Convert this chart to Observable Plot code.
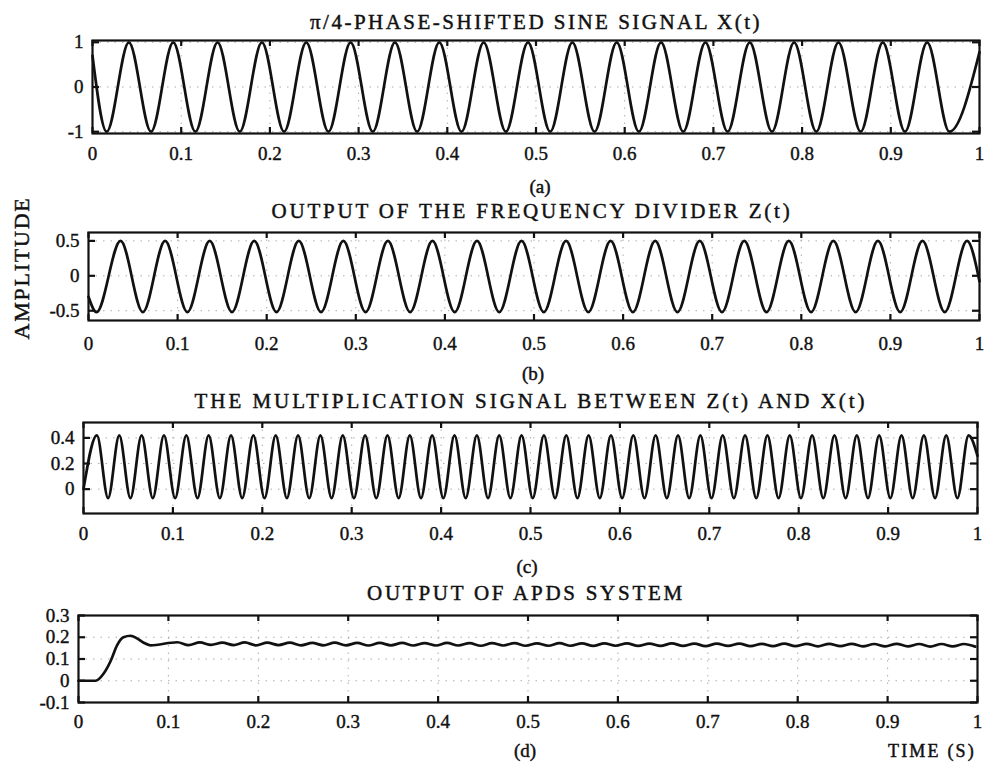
<!DOCTYPE html>
<html><head><meta charset="utf-8">
<script src="https://cdn.jsdelivr.net/npm/d3@7"></script>
<script src="https://cdn.jsdelivr.net/npm/@observablehq/plot@0.6"></script>
<style>
body{margin:0;background:#fff;}
#root{position:relative;width:987px;height:768px;overflow:hidden;background:#fff;font-family:"Liberation Serif","Times New Roman",serif;color:#111;}
.lbl{position:absolute;white-space:nowrap;line-height:1;-webkit-text-stroke:0.45px #111;}
.plot{position:absolute;left:0;}
.plot text{stroke:#111;stroke-width:0.4px;}
</style></head><body><div id="root"></div>
<script>
// ---------- data ----------
const xTicks = [0, 0.1, 0.2, 0.3, 0.4, 0.5, 0.6, 0.7, 0.8, 0.9, 1];

// (a) pi/4-phase-shifted sine X(t): extrema
const aStart = [0, 0.7];
const aEnd = [1, 0.78];
const aTroughT = [0.016, 0.066, 0.116, 0.166, 0.216, 0.266, 0.316, 0.366, 0.416, 0.466, 0.516, 0.566, 0.616, 0.666, 0.716, 0.766, 0.816, 0.866, 0.916, 0.966];
const aPeakT = [0.041, 0.091, 0.141, 0.191, 0.241, 0.291, 0.341, 0.391, 0.441, 0.491, 0.541, 0.591, 0.641, 0.691, 0.741, 0.791, 0.841, 0.891, 0.941];
const aPeakV = 1.0, aTroughV = -1.0;
const aYTicks = [-1, 0, 1];

// (b) output of the frequency divider Z(t)
const bStart = [0, -0.3];
const bEnd = [1, -0.08];
const bTroughT = [0.009, 0.061, 0.111, 0.161, 0.211, 0.261, 0.311, 0.361, 0.411, 0.461, 0.511, 0.561, 0.611, 0.661, 0.711, 0.761, 0.811, 0.861, 0.911, 0.961];
const bPeakT = [0.036, 0.086, 0.136, 0.186, 0.236, 0.286, 0.336, 0.386, 0.436, 0.486, 0.536, 0.586, 0.636, 0.686, 0.736, 0.786, 0.836, 0.886, 0.936, 0.986];
const bPeakV = 0.5, bTroughV = -0.52;
const bYTicks = [-0.5, 0, 0.5];

// (c) multiplication signal Z(t)*X(t)
const cStart = [0, 0.0];
const cEnd = [1, 0.26];
const cPeakT = [0.015, 0.040, 0.065, 0.090, 0.115, 0.140, 0.165, 0.190, 0.215, 0.240, 0.265, 0.290, 0.315, 0.340, 0.365, 0.390, 0.415, 0.440, 0.465, 0.490, 0.515, 0.540, 0.565, 0.590, 0.615, 0.640, 0.665, 0.690, 0.715, 0.740, 0.765, 0.790, 0.815, 0.840, 0.865, 0.890, 0.915, 0.940, 0.965, 0.990];
const cTroughT = [0.0275, 0.0525, 0.0775, 0.1025, 0.1275, 0.1525, 0.1775, 0.2025, 0.2275, 0.2525, 0.2775, 0.3025, 0.3275, 0.3525, 0.3775, 0.4025, 0.4275, 0.4525, 0.4775, 0.5025, 0.5275, 0.5525, 0.5775, 0.6025, 0.6275, 0.6525, 0.6775, 0.7025, 0.7275, 0.7525, 0.7775, 0.8025, 0.8275, 0.8525, 0.8775, 0.9025, 0.9275, 0.9525, 0.9775];
const cPeakV = 0.42, cTroughV = -0.07;
const cYTicks = [0, 0.2, 0.4];

// (d) output of APDS system
const dTransT = [0, 0.019, 0.028, 0.036, 0.043, 0.050, 0.058, 0.065, 0.072, 0.080];
const dTransV = [0, 0, 0.033, 0.093, 0.164, 0.200, 0.207, 0.195, 0.176, 0.163];
const dCrestT = [0.110, 0.135, 0.160, 0.185, 0.210, 0.235, 0.260, 0.285, 0.310, 0.335, 0.360, 0.385, 0.410, 0.435, 0.460, 0.485, 0.510, 0.535, 0.560, 0.585, 0.610, 0.635, 0.660, 0.685, 0.710, 0.735, 0.760, 0.785, 0.810, 0.835, 0.860, 0.885, 0.910, 0.935, 0.960, 0.985];
const dCrestV = [0.177, 0.176, 0.175, 0.176, 0.175, 0.175, 0.174, 0.175, 0.174, 0.174, 0.174, 0.173, 0.174, 0.173, 0.173, 0.173, 0.172, 0.173, 0.172, 0.172, 0.172, 0.171, 0.172, 0.171, 0.171, 0.171, 0.170, 0.171, 0.170, 0.170, 0.170, 0.169, 0.170, 0.169, 0.169, 0.169];
const dTroughT = [0.1225, 0.1475, 0.1725, 0.1975, 0.2225, 0.2475, 0.2725, 0.2975, 0.3225, 0.3475, 0.3725, 0.3975, 0.4225, 0.4475, 0.4725, 0.4975, 0.5225, 0.5475, 0.5725, 0.5975, 0.6225, 0.6475, 0.6725, 0.6975, 0.7225, 0.7475, 0.7725, 0.7975, 0.8225, 0.8475, 0.8725, 0.8975, 0.9225, 0.9475, 0.9725, 0.9975];
const dTroughV = [0.164, 0.165, 0.164, 0.163, 0.164, 0.163, 0.163, 0.163, 0.162, 0.163, 0.162, 0.162, 0.162, 0.161, 0.162, 0.161, 0.161, 0.161, 0.160, 0.161, 0.160, 0.160, 0.160, 0.159, 0.160, 0.159, 0.159, 0.159, 0.158, 0.159, 0.158, 0.158, 0.158, 0.157, 0.158, 0.157];
const dYTicks = [-0.1, 0, 0.1, 0.2, 0.3];

// ---------- build tables ----------
function extremaTable(start, peakT, peakV, troughT, troughV, end) {
  const rows = [{t: start[0], v: start[1]}];
  peakT.forEach(t => rows.push({t, v: peakV}));
  troughT.forEach(t => rows.push({t, v: troughV}));
  rows.push({t: end[0], v: end[1]});
  return rows.sort((a, b) => a.t - b.t);
}
const aData = extremaTable(aStart, aPeakT, aPeakV, aTroughT, aTroughV, aEnd);
const bData = extremaTable(bStart, bPeakT, bPeakV, bTroughT, bTroughV, bEnd);
const cData = extremaTable(cStart, cPeakT, cPeakV, cTroughT, cTroughV, cEnd);
const dData = dTransT.map((t, i) => ({t, v: dTransV[i]}))
  .concat(dCrestT.map((t, i) => ({t, v: dCrestV[i]})))
  .concat(dTroughT.map((t, i) => ({t, v: dTroughV[i]})))
  .sort((a, b) => a.t - b.t);

// ---------- layout ----------
const W = 987;
const root = document.getElementById("root");
const FONT = '"Liberation Serif","Times New Roman",serif';

function panel(data, cfg) {
  const mt = 8, mb = 44;
  const fh = cfg.bottom - cfg.top;
  const fw = cfg.right - cfg.left;
  const fmt = d => String(d);
  const p = Plot.plot({
    width: W, height: fh + mt + mb,
    marginTop: mt, marginBottom: mb, marginLeft: cfg.left, marginRight: W - cfg.right,
    x: {domain: [0, 1]},
    y: {domain: cfg.yDomain},
    style: {fontFamily: FONT, fontSize: "18px", color: "#111", background: "transparent", overflow: "visible"},
    marks: [
      Plot.gridX({ticks: xTicks, stroke: "#777", strokeOpacity: 0.6, strokeDasharray: "1.5,6"}),
      Plot.gridY({ticks: cfg.yTicks, stroke: "#777", strokeOpacity: 0.6, strokeDasharray: "1.5,6"}),
      Plot.line(data, {x: "t", y: "v", curve: "monotone-x", stroke: "#111", strokeWidth: 2.7}),
      Plot.tickX(xTicks, {x: d => d, insetTop: fh - 6, stroke: "#111", strokeWidth: 2.2}),
      Plot.tickX(xTicks, {x: d => d, insetBottom: fh - 6, stroke: "#111", strokeWidth: 2.2}),
      Plot.tickY(cfg.yTicks, {y: d => d, insetRight: fw - 7, stroke: "#111", strokeWidth: 2.2}),
      Plot.tickY(cfg.yTicks, {y: d => d, insetLeft: fw - 7, stroke: "#111", strokeWidth: 2.2}),
      Plot.axisX({ticks: xTicks, tickSize: 0, tickPadding: cfg.xPad, tickFormat: fmt, fontSize: 19, label: null}),
      Plot.axisY({ticks: cfg.yTicks, tickSize: 0, tickPadding: 9, tickFormat: fmt, fontSize: 19, label: null}),
      Plot.frame({stroke: "#111", strokeWidth: 2.2})
    ]
  });
  p.classList.add("plot");
  p.style.top = (cfg.top - mt) + "px";
  root.appendChild(p);
}

panel(aData, {top: 40, bottom: 133, left: 92, right: 979, yDomain: [-1.04, 1.04], yTicks: aYTicks, xPad: 13});
panel(bData, {top: 232, bottom: 320, left: 88, right: 979, yDomain: [-0.64, 0.62], yTicks: bYTicks, xPad: 16});
panel(cData, {top: 422, bottom: 513, left: 83, right: 977, yDomain: [-0.19, 0.52], yTicks: cYTicks, xPad: 13});
panel(dData, {top: 615, bottom: 702, left: 78, right: 977, yDomain: [-0.1, 0.3], yTicks: dYTicks, xPad: 12});

// ---------- text ----------
function label(text, cx, cy, size, target, opts = {}) {
  const el = document.createElement("div");
  el.className = "lbl";
  el.textContent = text;
  el.style.fontSize = size + "px";
  root.appendChild(el);
  let w = el.getBoundingClientRect().width;
  if (target) {
    const ls = Math.max(0, (target - w) / text.length);
    el.style.letterSpacing = ls + "px";
    w = el.getBoundingClientRect().width;
  }
  const h = el.getBoundingClientRect().height;
  if (opts.rotate) {
    el.style.left = (cx - w / 2) + "px";
    el.style.top = (cy - h / 2) + "px";
    el.style.transform = "rotate(-90deg)";
  } else if (opts.right != null) {
    el.style.left = (opts.right - w) + "px";
    el.style.top = (cy - h / 2) + "px";
  } else {
    el.style.left = (cx - w / 2) + "px";
    el.style.top = (cy - h / 2) + "px";
  }
  return el;
}

label("π/4-PHASE-SHIFTED SINE SIGNAL X(t)", 536, 22, 21, 452);
label("(a)", 540, 186, 19);
label("OUTPUT OF THE FREQUENCY DIVIDER Z(t)", 532, 211, 21, 521);
label("(b)", 533, 373, 19);
label("THE MULTIPLICATION SIGNAL BETWEEN Z(t) AND X(t)", 531, 401, 21, 673);
label("(c)", 527, 566, 19);
label("OUTPUT OF APDS SYSTEM", 526, 593, 21, 318);
label("(d)", 525, 750, 19);
label("TIME (S)", 0, 751, 18, 88, {right: 976});
label("AMPLITUDE", 21, 268, 22, 143, {rotate: true});
</script>
</body></html>
